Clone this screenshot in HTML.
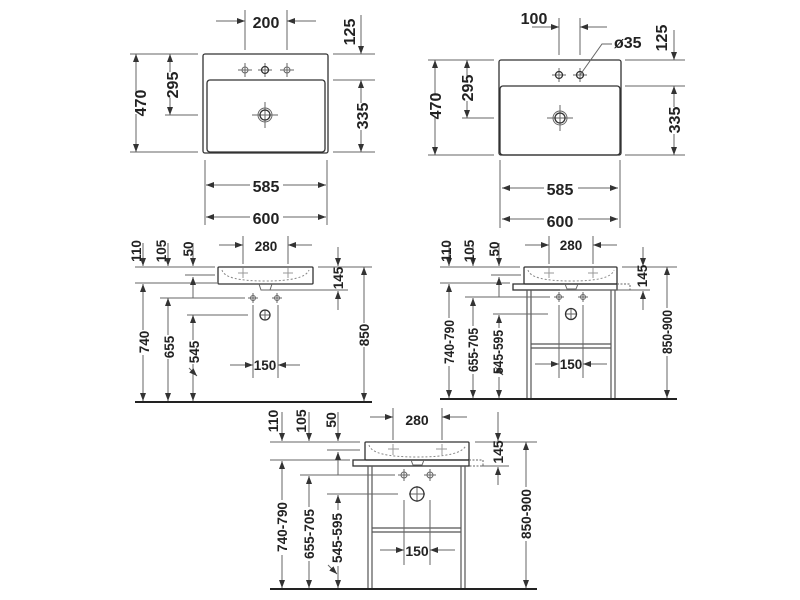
<!DOCTYPE html>
<html><head><meta charset="utf-8"><style>
html,body{margin:0;padding:0;background:#fff}
svg{display:block}
text{font-family:"Liberation Sans",sans-serif;font-weight:bold;fill:#222}
.l{stroke:#666;stroke-width:1;fill:none}
.b{stroke:#333;stroke-width:1.3;fill:none}
.t16{font-size:16px}.t13{font-size:13.5px}.t14{font-size:14px}
</style></head><body>
<svg width="800" height="600" viewBox="0 0 800 600" xmlns="http://www.w3.org/2000/svg">
<defs>
<marker id="a" markerUnits="userSpaceOnUse" markerWidth="8" markerHeight="6" refX="8" refY="3" orient="auto"><path d="M0,0 L8,3 L0,6 z" fill="#333"/></marker>
</defs>

<!-- ===== TOP LEFT ===== -->
<g>
<rect class="b" x="203" y="54" width="125" height="99" rx="2"/>
<rect class="b" x="207" y="80" width="118" height="72" rx="3"/>
<g class="l"><path d="M238,70h14M245,63v14M280,70h14M287,63v14M258,70h14M265,63v14M252,115h26M265,102v26"/></g>
<circle class="l" cx="245" cy="70" r="3"/><circle class="l" cx="287" cy="70" r="3"/>
<circle class="b" cx="265" cy="70" r="3.5"/>
<circle class="b" cx="265" cy="115" r="5"/><circle class="l" cx="265" cy="115" r="7"/>
<g class="l">
<path d="M245,10v40M287,10v40"/>
<path d="M130,54h68M130,152h68M165,115h33"/>
<path d="M333,54h42M333,80h42M333,152h42"/>
<path d="M205,160v65M327,160v65"/>
</g>
<g class="l" marker-end="url(#a)">
<path d="M216,21H245"/><path d="M316,21H287"/>
<path d="M136,92V54"/><path d="M136,114V152"/>
<path d="M170,72V54"/><path d="M170,98V115"/>
<path d="M361,15V54"/>
<path d="M361,103V80"/><path d="M361,130V152"/>
<path d="M250,185H206"/><path d="M283,185H326"/>
<path d="M250,217H206"/><path d="M283,217H326"/>
</g>
<text class="t16" x="266" y="28" text-anchor="middle">200</text>
<text class="t16" x="266" y="192" text-anchor="middle">585</text>
<text class="t16" x="266" y="224" text-anchor="middle">600</text>
<text class="t16" transform="translate(146,103) rotate(-90)" text-anchor="middle">470</text>
<text class="t16" transform="translate(178,85) rotate(-90)" text-anchor="middle">295</text>
<text class="t16" transform="translate(355,32) rotate(-90)" text-anchor="middle">125</text>
<text class="t16" transform="translate(368,116) rotate(-90)" text-anchor="middle">335</text>
</g>

<!-- ===== TOP RIGHT ===== -->
<g>
<rect class="b" x="499" y="60" width="122" height="95" rx="2"/>
<rect class="b" x="500" y="86" width="120" height="69" rx="3"/>
<g class="l"><path d="M552,75h14M559,68v14M573,75h14M580,68v14M547,118h26M560,105v26"/></g>
<circle class="b" cx="559" cy="75" r="3.5"/><circle class="b" cx="580" cy="75" r="3.5"/>
<circle class="b" cx="560" cy="118" r="5"/><circle class="l" cx="560" cy="118" r="7"/>
<g class="l">
<path d="M559,18v37M580,18v37"/>
<path d="M428,60h66M428,155h66M462,118h32"/>
<path d="M625,60h60M625,86h60M625,155h60"/>
<path d="M500,160v68M620,160v68"/>
<path d="M580,75L602,44H612"/>
</g>
<g class="l" marker-end="url(#a)">
<path d="M532,27H559"/><path d="M607,27H580"/>
<path d="M435,95V60"/><path d="M435,117V155"/>
<path d="M467,76V60"/><path d="M467,101V118"/>
<path d="M674,30V60"/>
<path d="M674,107V86"/><path d="M674,134V155"/>
<path d="M544,188H502"/><path d="M578,188H618"/>
<path d="M544,219H502"/><path d="M578,219H618"/>
</g>
<text class="t16" x="534" y="24" text-anchor="middle">100</text>
<text class="t16" x="614" y="48">ø35</text>
<text class="t16" x="560" y="195" text-anchor="middle">585</text>
<text class="t16" x="560" y="227" text-anchor="middle">600</text>
<text class="t16" transform="translate(441,106) rotate(-90)" text-anchor="middle">470</text>
<text class="t16" transform="translate(473,88) rotate(-90)" text-anchor="middle">295</text>
<text class="t16" transform="translate(667,38) rotate(-90)" text-anchor="middle">125</text>
<text class="t16" transform="translate(680,120) rotate(-90)" text-anchor="middle">335</text>
</g>

<!-- ===== MIDDLE LEFT ===== -->
<g>
<path d="M135,402H372" stroke="#222" stroke-width="2"/>
<rect class="b" x="218" y="267" width="95" height="17" rx="1"/>
<path d="M222,270 Q225,281 265,281 Q305,281 309,270" stroke="#888" stroke-dasharray="2,2" fill="none"/>
<path class="l" d="M259,284 L261,290 H270 L272,284"/>
<g stroke="#999" fill="none"><path d="M238,273h10M243,268v10M283,273h10M288,268v10"/></g>
<g class="l">
<path d="M243,236v28M288,236v28"/>
<path d="M135,267h80M135,283h82M185,275h30M160,298h85M187,315h61"/>
<path d="M318,267h54M263,290h85"/>
<path d="M253,305v73M278,305v73"/>
<path d="M248,298h10M253,293v10M272,298h10M277,293v10M260,315h10M265,310v10"/>
</g>
<circle class="l" cx="253" cy="298" r="2.5"/><circle class="l" cx="277" cy="298" r="2.5"/>
<circle class="b" cx="265" cy="315" r="5"/>
<g class="l" marker-end="url(#a)">
<path d="M219,245H243"/><path d="M312,245H288"/>
<path d="M143,243V266"/><path d="M168,243V266"/><path d="M193,243V266"/>
<path d="M193,298V277"/>
<path d="M143,330V284"/><path d="M143,355V401"/>
<path d="M168,335V298"/><path d="M168,359V401"/>
<path d="M193,340V315"/><path d="M193,364V401"/>
<path d="M364,323V267"/><path d="M364,347V401"/>
<path d="M338,247V266"/><path d="M338,310V291"/>
<path d="M230,365H253"/><path d="M300,365H278"/>
<path d="M189,368L197,376"/>
</g>
<text class="t13" x="266" y="251" text-anchor="middle">280</text>
<text class="t13" x="265" y="370" text-anchor="middle">150</text>
<text class="t13" transform="translate(141,251) rotate(-90)" text-anchor="middle">110</text>
<text class="t13" transform="translate(166,251) rotate(-90)" text-anchor="middle">105</text>
<text class="t13" transform="translate(193,249) rotate(-90)" text-anchor="middle">50</text>
<text class="t13" transform="translate(149,342) rotate(-90)" text-anchor="middle">740</text>
<text class="t13" transform="translate(174,347) rotate(-90)" text-anchor="middle">655</text>
<text class="t13" transform="translate(199,352) rotate(-90)" text-anchor="middle">545</text>
<text class="t13" transform="translate(369,335) rotate(-90)" text-anchor="middle">850</text>
<text class="t13" transform="translate(343,278) rotate(-90)" text-anchor="middle">145</text>
</g>

<!-- ===== MIDDLE RIGHT ===== -->
<g>
<path d="M440,399H677" stroke="#222" stroke-width="2"/>
<rect class="b" x="524" y="267" width="93" height="17" rx="1"/>
<path d="M528,270 Q531,281 571,281 Q611,281 614,270" stroke="#888" stroke-dasharray="2,2" fill="none"/>
<rect class="b" x="513" y="284" width="104" height="6"/>
<path d="M617,284h13v6h-13" stroke="#666" stroke-dasharray="2,1.5" fill="none"/>
<path class="l" d="M565,284 L567,289 H576 L578,284"/>
<g stroke="#555" stroke-width="1.2" fill="none">
<path d="M527,290V398M531,290V398M611,290V398M615,290V398M531,344H611M531,348H611"/>
</g>
<g stroke="#999" fill="none"><path d="M544,273h10M549,268v10M588,273h10M593,268v10"/></g>
<g class="l">
<path d="M549,236v28M593,236v28"/>
<path d="M440,267h80M440,283h70M491,275h30M465,297h85M493,314h55"/>
<path d="M622,267h55M560,290h90"/>
<path d="M559,305v73M583,305v73"/>
<path d="M554,297h10M559,292v10M578,297h10M583,292v10M565,314h12M571,308v12"/>
</g>
<circle class="l" cx="559" cy="297" r="2.5"/><circle class="l" cx="583" cy="297" r="2.5"/>
<circle class="b" cx="571" cy="314" r="5.5"/>
<g class="l" marker-end="url(#a)">
<path d="M525,245H549"/><path d="M617,245H593"/>
<path d="M449,243V266"/><path d="M473,243V266"/><path d="M499,243V266"/>
<path d="M499,297V277"/>
<path d="M449,318V284"/><path d="M449,366V398"/>
<path d="M473,326V298"/><path d="M473,374V398"/>
<path d="M499,328V315"/><path d="M499,377V398"/>
<path d="M667,308V267"/><path d="M667,356V398"/>
<path d="M643,247V266"/><path d="M643,310V291"/>
<path d="M535,364H559"/><path d="M607,364H583"/>
<path d="M495,367L503,375"/>
</g>
<text class="t13" x="571" y="250" text-anchor="middle">280</text>
<text class="t13" x="571" y="369" text-anchor="middle">150</text>
<text class="t13" transform="translate(451,251) rotate(-90)" text-anchor="middle">110</text>
<text class="t13" transform="translate(474,251) rotate(-90)" text-anchor="middle">105</text>
<text class="t13" transform="translate(499,249) rotate(-90)" text-anchor="middle">50</text>
<text class="t13" transform="translate(454,342) rotate(-90)" text-anchor="middle" textLength="44" lengthAdjust="spacingAndGlyphs">740-790</text>
<text class="t13" transform="translate(478,350) rotate(-90)" text-anchor="middle" textLength="44" lengthAdjust="spacingAndGlyphs">655-705</text>
<text class="t13" transform="translate(503,352) rotate(-90)" text-anchor="middle" textLength="44" lengthAdjust="spacingAndGlyphs">545-595</text>
<text class="t13" transform="translate(672,332) rotate(-90)" text-anchor="middle" textLength="44" lengthAdjust="spacingAndGlyphs">850-900</text>
<text class="t13" transform="translate(647,276) rotate(-90)" text-anchor="middle">145</text>
</g>

<!-- ===== BOTTOM ===== -->
<g>
<path d="M270,589H537" stroke="#222" stroke-width="2"/>
<rect class="b" x="365" y="442" width="104" height="18" rx="1"/>
<path d="M369,445 Q372,457 417,457 Q462,457 466,445" stroke="#888" stroke-dasharray="2,2" fill="none"/>
<rect class="b" x="353" y="460" width="116" height="6"/>
<path d="M469,460h14v6h-14" stroke="#666" stroke-dasharray="2,1.5" fill="none"/>
<path class="l" d="M411,460 L413,465 H422 L424,460"/>
<g stroke="#555" stroke-width="1.2" fill="none">
<path d="M368,466V588M372,466V588M461,466V588M465,466V588M372,528H461M372,532H461"/>
</g>
<g stroke="#999" fill="none"><path d="M388,449h11M393,444v11M436,449h11M442,444v11"/></g>
<g class="l">
<path d="M393,408v32M442,408v32"/>
<path d="M270,442h90M270,460h80M327,450h33M300,475h95M327,494h71"/>
<path d="M475,442h62M480,466h29"/>
<path d="M404,500v65M430,500v65"/>
<path d="M398,475h12M404,469v12M424,475h12M430,469v12M409,494h16M417,486v16"/>
</g>
<circle class="l" cx="404" cy="475" r="3"/><circle class="l" cx="430" cy="475" r="3"/>
<circle class="b" cx="417" cy="494" r="7"/>
<g class="l" marker-end="url(#a)">
<path d="M370,417H393"/><path d="M467,417H442"/>
<path d="M282,412V441"/><path d="M309,412V441"/><path d="M338,412V441"/>
<path d="M338,475V452"/>
<path d="M282,500V461"/><path d="M282,555V588"/>
<path d="M309,507V476"/><path d="M309,561V588"/>
<path d="M338,510V495"/><path d="M338,566V588"/>
<path d="M526,487V442"/><path d="M526,541V588"/>
<path d="M498,412V441"/><path d="M498,485V467"/>
<path d="M380,550H404"/><path d="M455,550H430"/>
<path d="M328,565L337,574"/>
</g>
<text class="t14" x="417" y="425" text-anchor="middle">280</text>
<text class="t14" x="417" y="556" text-anchor="middle">150</text>
<text class="t14" transform="translate(278,421) rotate(-90)" text-anchor="middle">110</text>
<text class="t14" transform="translate(306,421) rotate(-90)" text-anchor="middle">105</text>
<text class="t14" transform="translate(336,420) rotate(-90)" text-anchor="middle">50</text>
<text class="t14" transform="translate(287,527) rotate(-90)" text-anchor="middle" textLength="50" lengthAdjust="spacingAndGlyphs">740-790</text>
<text class="t14" transform="translate(314,534) rotate(-90)" text-anchor="middle" textLength="50" lengthAdjust="spacingAndGlyphs">655-705</text>
<text class="t14" transform="translate(342,538) rotate(-90)" text-anchor="middle" textLength="50" lengthAdjust="spacingAndGlyphs">545-595</text>
<text class="t14" transform="translate(531,514) rotate(-90)" text-anchor="middle" textLength="50" lengthAdjust="spacingAndGlyphs">850-900</text>
<text class="t14" transform="translate(503,452) rotate(-90)" text-anchor="middle">145</text>
</g>
</svg>
</body></html>
